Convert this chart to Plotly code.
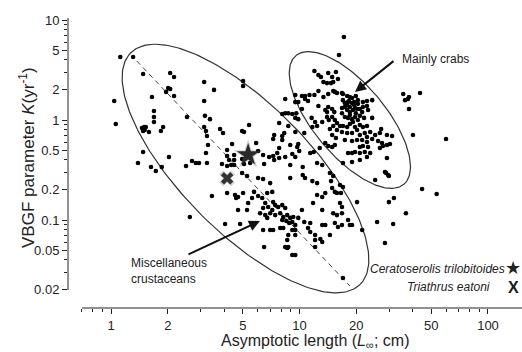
import numpy as np
import plotly.graph_objects as go

FONT = "Liberation Sans, Arial, sans-serif"

# ---------------- data (asymptotic length L_inf in cm, K in 1/yr) ----------------
misc_upper_L = [1.12, 1.31, 1.48, 2.06, 2.16, 3.12, 5.02, 5.02, 3.52, 2.01, 2.06, 1.96, 2.16, 1.65, 1.04, 3.12,
                1.69, 1.69, 2.53, 3.15, 3.35, 1.69, 1.06, 1.89, 1.46, 1.50, 1.53, 1.48, 1.51, 1.59, 1.84, 3.12,
                3.19, 3.79, 3.93, 4.96, 5.08, 5.40, 7.80, 3.23, 7.34, 7.25, 3.27, 4.39, 5.89, 4.13, 3.19, 1.48,
                2.03, 6.03, 6.41, 6.90, 7.25, 7.62, 4.13, 4.23, 4.50, 4.50, 1.39, 1.63, 1.86, 2.50, 2.69, 2.82,
                2.93, 3.23, 3.88, 4.13, 4.34, 4.50, 4.96, 5.08, 5.47, 6.49, 7.34, 7.80, 1.73, 3.43, 2.62]
misc_upper_K = [4.27, 4.27, 2.88, 2.95, 2.69, 2.40, 2.45, 2.19, 2.00, 2.09, 2.04, 1.91, 1.74, 1.70, 1.55, 1.55,
                1.23, 1.07, 1.07, 1.10, 1.02, 0.955, 0.912, 0.851, 0.832, 0.851, 0.851, 0.776, 0.794, 0.759, 0.776,
                0.851, 0.776, 0.813, 0.741, 0.776, 0.759, 0.891, 0.933, 0.692, 0.708, 0.646, 0.562, 0.575, 0.589,
                0.501, 0.468, 0.479, 0.427, 0.490, 0.447, 0.427, 0.437, 0.468, 0.437, 0.398, 0.447, 0.398, 0.372,
                0.339, 0.339, 0.347, 0.389, 0.372, 0.372, 0.372, 0.363, 0.347, 0.355, 0.355, 0.407, 0.363, 0.372,
                0.363, 0.398, 0.417, 0.309, 0.174, 0.107]

crab_L = [17.2, 16.2, 12.0, 12.6, 13.0, 14.2, 14.9, 15.6, 16.0, 13.4, 14.0, 14.7, 15.1, 15.4, 15.8, 15.1, 12.6,
          13.4, 14.2, 8.40, 9.50, 10.3, 10.7, 11.3, 12.0, 9.50, 9.85, 10.7, 11.1, 10.3, 8.10, 8.40, 8.72, 9.16,
          9.62, 9.50, 9.85, 11.6, 12.6, 13.7, 14.0, 14.2, 14.9, 15.3, 12.1, 12.4, 13.2, 14.0, 14.3, 14.9, 15.4,
          15.8, 14.5, 15.8, 15.1, 16.4, 14.9, 15.6, 13.7, 14.2, 14.9, 15.4, 12.8, 11.9, 8.72, 9.50, 8.30, 8.10,
          10.6, 11.7, 9.85, 8.93, 8.10, 7.80, 9.73, 9.16, 9.50, 8.40, 11.4, 9.97]
crab_K = [6.76, 4.47, 3.09, 2.82, 2.69, 2.95, 2.69, 3.02, 2.57, 2.40, 2.34, 2.34, 2.40, 1.91, 1.86, 1.95, 1.95,
          1.70, 1.82, 1.62, 1.78, 1.74, 1.74, 1.78, 1.78, 1.51, 1.51, 1.62, 1.55, 1.29, 1.15, 1.17, 1.17, 1.15,
          1.17, 1.05, 1.02, 1.05, 1.38, 1.26, 1.20, 1.35, 1.29, 1.20, 0.955, 0.871, 0.955, 1.07, 1.00, 1.07, 1.00,
          0.933, 0.813, 0.794, 0.871, 0.871, 0.708, 0.661, 0.589, 0.550, 0.537, 0.562, 0.525, 0.479, 0.871, 0.759,
          0.741, 0.692, 0.741, 0.851, 0.575, 0.562, 0.631, 0.525, 0.537, 0.457, 0.427, 0.427, 0.468, 0.490]

crab_core_L = [16.8, 17.0, 17.9, 18.5, 17.0, 17.4, 17.9, 18.1, 18.5, 19.0, 19.5, 20.4, 21.7, 22.8, 24.3,
               16.8, 17.4, 17.9, 18.5, 19.2, 20.2, 20.9, 21.7, 22.8, 23.1, 16.8, 17.4, 18.1, 18.5, 19.0, 19.7,
               17.0, 17.9, 18.5, 19.7, 20.9, 21.7, 22.8, 16.8, 17.9, 19.0, 20.2, 20.9, 22.2, 23.7, 25.2, 26.7,
               29.1, 31.0, 17.4, 19.0, 20.2, 21.5, 22.8, 24.3, 26.1, 27.4, 29.1, 30.2, 20.9, 21.7, 23.1, 26.7,
               27.7, 18.1, 19.0, 19.7, 20.9, 22.2, 23.7, 17.0, 19.0, 22.8, 20.9, 29.1, 28.4, 29.5, 25.2, 24.3,
               27.1, 22.8, 19.0, 19.9, 19.5, 20.4, 19.9, 20.9, 19.2, 20.4, 22.0, 21.5, 18.3, 19.7]
crab_core_K = [1.86, 1.82, 1.74, 1.70, 1.58, 1.48, 1.41, 1.51, 1.35, 1.48, 1.51, 1.58, 1.51, 1.55, 1.58,
               1.32, 1.35, 1.26, 1.20, 1.26, 1.29, 1.29, 1.35, 1.38, 1.26, 1.17, 1.07, 1.05, 1.12, 1.02, 1.07,
               0.871, 0.851, 0.912, 0.851, 0.891, 0.851, 0.871, 0.759, 0.741, 0.741, 0.794, 0.708, 0.741, 0.759,
               0.708, 0.741, 0.708, 0.692, 0.631, 0.617, 0.631, 0.631, 0.603, 0.646, 0.617, 0.589, 0.562, 0.575,
               0.537, 0.550, 0.537, 0.525, 0.550, 0.468, 0.468, 0.479, 0.468, 0.479, 0.468, 0.372, 0.380, 0.427,
               0.398, 0.417, 0.302, 0.282, 0.251, 1.05, 0.813, 0.676, 1.66, 1.74, 1.41, 1.45, 1.17, 1.10, 0.955,
               1.00, 1.05, 1.20, 1.55, 1.32]

right_L = [35.5, 36.3, 37.6, 38.1, 43.6, 38.1, 40.0, 59.9, 28.8, 29.8, 44.7, 53.4, 20.2, 29.8, 31.7, 36.7,
           25.8, 31.4, 19.0, 21.5, 28.4]
right_K = [1.82, 1.58, 1.62, 1.70, 1.86, 1.29, 0.708, 0.646, 0.295, 0.275, 0.204, 0.182, 0.151, 0.151, 0.166,
           0.117, 0.0955, 0.0912, 0.0891, 0.0794, 0.0589]

misc_lower_L = [8.93, 10.4, 12.4, 13.2, 4.96, 5.27, 6.03, 6.41, 6.99, 8.93, 10.4, 10.7, 11.7, 12.4, 14.5, 15.1,
                14.7, 16.4, 17.0, 16.6, 4.13, 4.55, 4.61, 4.72, 5.02, 5.60, 5.74, 6.03, 6.34, 6.74, 7.17, 5.34,
                5.27, 4.72, 6.58, 6.82, 6.41, 7.25, 7.43, 7.17, 7.71, 8.10, 8.40, 6.18, 6.58, 6.99, 7.43, 6.74,
                7.90, 8.20, 8.61, 8.93, 9.27, 8.10, 8.51, 8.82, 9.16, 9.50, 6.41, 6.99, 7.25, 7.90, 8.20, 9.16,
                9.50, 4.03, 4.84, 8.61, 8.72, 9.50, 11.1, 11.4, 12.1, 12.9, 13.2, 14.5, 8.40, 8.72, 8.61, 12.1,
                6.49, 9.16, 9.50, 17.0, 14.9, 15.4, 15.8, 13.7, 13.2, 12.4, 11.8, 16.4, 16.8, 13.2, 15.1, 15.8,
                16.8, 13.7, 13.2, 15.4, 16.0, 16.8, 18.1, 18.5, 10.3, 9.85, 10.6, 11.4, 12.1]
misc_lower_K = [0.355, 0.339, 0.372, 0.355, 0.295, 0.275, 0.263, 0.257, 0.234, 0.263, 0.282, 0.263, 0.245, 0.234,
                0.295, 0.275, 0.245, 0.224, 0.214, 0.186, 0.186, 0.178, 0.166, 0.170, 0.186, 0.166, 0.191, 0.174,
                0.166, 0.186, 0.191, 0.148, 0.126, 0.126, 0.148, 0.135, 0.132, 0.151, 0.141, 0.126, 0.135, 0.141,
                0.132, 0.117, 0.112, 0.117, 0.112, 0.105, 0.117, 0.107, 0.112, 0.105, 0.107, 0.100, 0.0977, 0.0933,
                0.0955, 0.0891, 0.0794, 0.0794, 0.0794, 0.0832, 0.0832, 0.0794, 0.0794, 0.0912, 0.0912, 0.0631,
                0.0708, 0.0708, 0.0832, 0.0759, 0.0631, 0.0646, 0.0603, 0.0708, 0.0537, 0.0537, 0.0525, 0.0537,
                0.0537, 0.0447, 0.0447, 0.0263, 0.209, 0.191, 0.186, 0.186, 0.170, 0.178, 0.148, 0.148, 0.135,
                0.126, 0.117, 0.112, 0.117, 0.0891, 0.0891, 0.0933, 0.0851, 0.0891, 0.100, 0.0891, 0.126, 0.105,
                0.0955, 0.0933, 0.0708]

# highlighted species
ceratoserolis_L, ceratoserolis_K = [5.34], [0.447]
triathrus_L, triathrus_K = [4.13], [0.261]

# dashed reference line (end points)
ref_line_L = [1.37, 18.5]
ref_line_K = [3.89, 0.0219]

# tick labels
x_ticks = [1, 2, 5, 10, 20, 50, 100]
x_minor = [0.7, 0.8, 0.9, 3, 4, 6, 7, 8, 9, 30, 40, 60, 70, 80, 90]
y_ticks = [0.02, 0.05, 0.1, 0.2, 0.5, 1, 2, 5, 10]
y_tick_text = ["0.02", "0.05", "0.1", "0.2", "0.5", "1", "2", "5", "10"]
y_minor = [0.03, 0.04, 0.06, 0.07, 0.08, 0.09, 0.3, 0.4, 0.6, 0.7, 0.8, 0.9, 3, 4, 6, 7, 8, 9]

# ---------------- layout geometry ----------------
W, H = 522, 352
ML, MR, MT, MB = 68, 0, 15, 44
PW, PH = W - ML - MR, H - MT - MB
XR = [-0.2281, 2.1804]
YR = [-1.88, 1.05]
SX = PW / (XR[1] - XR[0])   # px per decade
SY = PH / (YR[1] - YR[0])


def ellipse(Lc, Kc, a, b, theta_deg, n=240):
    """Ellipse drawn in log-log space; a, b in screen pixels, theta clockwise from +x."""
    t = np.linspace(0, 2 * np.pi, n)
    th = np.radians(theta_deg)
    dx = a * np.cos(t) * np.cos(th) - b * np.sin(t) * np.sin(th)
    dy = a * np.cos(t) * np.sin(th) + b * np.sin(t) * np.cos(th)
    return 10 ** (np.log10(Lc) + dx / SX), 10 ** (np.log10(Kc) - dy / SY)


fig = go.Figure()

# ellipses
for (Lc, Kc, a, b, th) in [(5.17, 0.327, 163, 64, 45.3), (18.5, 1.0, 84, 36, 50)]:
    ex, ey = ellipse(Lc, Kc, a, b, th)
    fig.add_trace(go.Scatter(x=ex, y=ey, mode="lines", line=dict(color="#333333", width=1.2),
                             hoverinfo="skip", showlegend=False))

# dashed line
fig.add_trace(go.Scatter(x=ref_line_L, y=ref_line_K, mode="lines",
                         line=dict(color="#444444", width=1, dash="5px,4px"),
                         hoverinfo="skip", showlegend=False))

all_L = misc_upper_L + crab_L + crab_core_L + right_L + misc_lower_L
all_K = misc_upper_K + crab_K + crab_core_K + right_K + misc_lower_K
fig.add_trace(go.Scatter(x=all_L, y=all_K, mode="markers",
                         marker=dict(size=4.6, color="black", line=dict(width=0)),
                         showlegend=False))

# highlighted species (with soft glow)
fig.add_trace(go.Scatter(x=ceratoserolis_L, y=ceratoserolis_K, mode="markers",
                         marker=dict(symbol="star", size=22, color="rgba(60,60,60,0.25)", line=dict(width=0)),
                         showlegend=False, hoverinfo="skip"))
fig.add_trace(go.Scatter(x=ceratoserolis_L, y=ceratoserolis_K, mode="markers",
                         marker=dict(symbol="star", size=17, color="#2a2a2a", line=dict(width=0)),
                         name="Ceratoserolis trilobitoides", showlegend=False))
fig.add_trace(go.Scatter(x=triathrus_L, y=triathrus_K, mode="markers",
                         marker=dict(symbol="x", size=14, color="rgba(80,80,80,0.25)", line=dict(width=0)),
                         showlegend=False, hoverinfo="skip"))
fig.add_trace(go.Scatter(x=triathrus_L, y=triathrus_K, mode="markers",
                         marker=dict(symbol="x", size=11, color="#333333", line=dict(width=0)),
                         name="Triathrus eatoni", showlegend=False))


def px2paper(x, y):
    return (x - ML) / PW, (H - MB - y) / PH


shapes = []
# detached axis lines
x0p, _ = px2paper(82, 0)
shapes.append(dict(type="line", xref="paper", yref="paper", x0=x0p, x1=1, y0=0, y1=0,
                   line=dict(color="#222", width=1)))
_, yb = px2paper(0, 290)
_, yt = px2paper(0, 18)
shapes.append(dict(type="line", xref="paper", yref="paper", x0=0, x1=0, y0=yb, y1=yt,
                   line=dict(color="#222", width=1)))

ann = []
# axis titles
tx, ty = px2paper(315, 352)
ann.append(dict(xref="paper", yref="paper", x=tx, y=ty, xanchor="center", yanchor="bottom", showarrow=False,
                borderpad=0,
                text="Asymptotic length (<i>L</i><sub>∞</sub>; cm)", font=dict(size=16, color="#222", family=FONT)))
tx, ty = px2paper(27, 158)
ann.append(dict(xref="paper", yref="paper", x=tx, y=ty, xanchor="center", yanchor="middle", showarrow=False,
                textangle=-90, text="VBGF parameter <i>K</i>(yr<sup>-1</sup>)",
                font=dict(size=17, color="#222", family=FONT)))

# arrows
ann.append(dict(x=np.log10(19.7), y=np.log10(1.91), xref="x", yref="y", ax=40, ay=-32, text="",
                showarrow=True, arrowhead=2, arrowsize=1.1, arrowwidth=2, arrowcolor="#111"))
ann.append(dict(x=np.log10(6.17), y=np.log10(0.0977), xref="x", yref="y", ax=-73, ay=34, text="",
                showarrow=True, arrowhead=2, arrowsize=1.1, arrowwidth=2, arrowcolor="#111"))

tx, ty = px2paper(400, 59)
ann.append(dict(xref="paper", yref="paper", x=tx, y=ty, xanchor="left", yanchor="middle", showarrow=False,
                text="Mainly crabs", font=dict(size=12, color="#222", family=FONT)))
tx, ty = px2paper(129, 270.5)
ann.append(dict(xref="paper", yref="paper", x=tx, y=ty, xanchor="left", yanchor="middle", showarrow=False,
                align="left", text="Miscellaneous<br>crustaceans", font=dict(size=12, color="#222", family=FONT)))

# legend (symbol on the right of label)
tx, ty = px2paper(507, 269)
ann.append(dict(xref="paper", yref="paper", x=tx, y=ty, xanchor="right", yanchor="middle", showarrow=False,
                text="<i>Ceratoserolis trilobitoides</i>", font=dict(size=12, color="#222", family=FONT)))
tx, ty = px2paper(492, 287)
ann.append(dict(xref="paper", yref="paper", x=tx, y=ty, xanchor="right", yanchor="middle", showarrow=False,
                text="<i>Triathrus eatoni</i>", font=dict(size=12, color="#222", family=FONT)))
tx, ty = px2paper(513, 267)
ann.append(dict(xref="paper", yref="paper", x=tx, y=ty, xanchor="center", yanchor="middle", showarrow=False,
                text="★", font=dict(size=18, color="#222", family="DejaVu Sans")))
tx, ty = px2paper(513, 287)
ann.append(dict(xref="paper", yref="paper", x=tx, y=ty, xanchor="center", yanchor="middle", showarrow=False,
                text="<b>X</b>", font=dict(size=16, color="#1a1a1a", family=FONT)))

fig.update_layout(
    width=W, height=H,
    margin=dict(l=ML, r=MR, t=MT, b=MB, pad=0),
    paper_bgcolor="white", plot_bgcolor="white",
    font=dict(family=FONT, color="#222"),
    shapes=shapes, annotations=ann,
    xaxis=dict(type="log", range=XR, tickmode="array", tickvals=x_ticks, ticktext=[str(v) for v in x_ticks],
               ticks="outside", ticklen=5, tickwidth=1, tickcolor="#222", showline=False, showgrid=False,
               zeroline=False, tickfont=dict(size=13, color="#222", family=FONT),
               minor=dict(tickmode="array", tickvals=x_minor, ticks="outside", ticklen=3, tickwidth=1,
                          tickcolor="#222", showgrid=False)),
    yaxis=dict(type="log", range=YR, tickmode="array", tickvals=y_ticks, ticktext=y_tick_text,
               ticks="outside", ticklen=5, tickwidth=1, tickcolor="#222", showline=False, showgrid=False,
               zeroline=False, tickfont=dict(size=13, color="#222", family=FONT),
               minor=dict(tickmode="array", tickvals=y_minor, ticks="outside", ticklen=3, tickwidth=1,
                          tickcolor="#222", showgrid=False)),
)

fig.write_html("out.html")
